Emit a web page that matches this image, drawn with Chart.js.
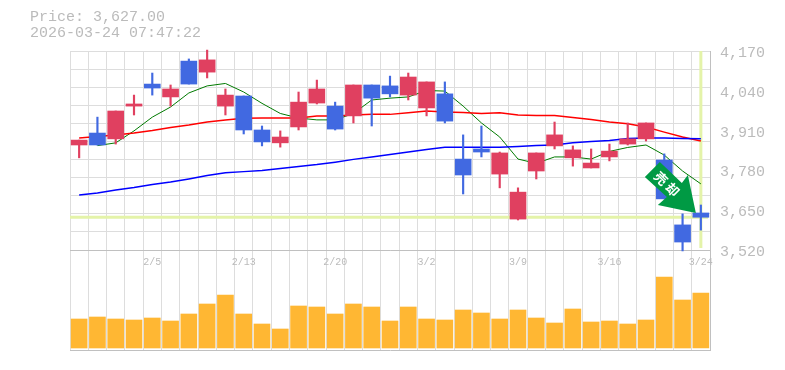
<!DOCTYPE html>
<html>
<head>
<meta charset="utf-8">
<script src="https://cdn.jsdelivr.net/npm/chart.js@4"></script>
<style>
html, body { margin: 0; padding: 0; background: #fff; }
#wrap { position: relative; width: 785px; height: 370px; overflow: hidden; }
canvas { position: absolute; left: 0; top: 0; }
#info { position: absolute; left: 30px; top: 10px; font: 15px/16px "Liberation Mono", monospace; color: #bbb; white-space: pre; }
</style>
</head>
<body>
<div id="wrap">
  <canvas id="volChart" width="785" height="370"></canvas>
  <canvas id="priceChart" width="785" height="370"></canvas>
  <div id="info">Price: 3,627.00
2026-03-24 07:47:22</div>
</div>
<script>
const dates = ['1/30','2/2','2/3','2/4','2/5','2/6','2/9','2/10','2/12','2/13','2/16','2/17','2/18','2/19','2/20','2/24','2/25','2/26','2/27','3/2','3/3','3/4','3/5','3/6','3/9','3/10','3/11','3/12','3/13','3/16','3/17','3/18','3/19','3/23','3/24'];
const open = [3863,3902,3883,3990,4062,4020,4137,4101,3990,4023,3912,3870,3922,4000,3990,3958,4059,4056,4026,3984,4030,3817,3850,3768,3621,3778,3860,3821,3788,3824,3866,3883,3814,3602,3641];
const high = [3879,3954,3974,4026,4098,4059,4144,4173,4046,4023,3925,3909,4036,4075,4003,4059,4059,4088,4098,4069,4069,3896,3925,3840,3723,3837,3938,3860,3850,3866,3935,3935,3834,3638,3667];
const low = [3821,3863,3866,3961,4026,3990,4062,4082,3961,3899,3860,3856,3912,3997,3912,3935,3925,4020,4010,3958,3935,3703,3824,3723,3618,3752,3850,3794,3788,3811,3863,3876,3687,3517,3585];
const close = [3879,3863,3974,3997,4049,4046,4062,4141,4026,3912,3873,3889,4003,4046,3915,4059,4016,4030,4085,4069,3941,3765,3840,3837,3709,3837,3896,3847,3804,3843,3883,3935,3687,3546,3627];
const maShort = [null,3861,3870,3909,3954,3987,4033,4056,4064,4036,3999,3966,3951,3945,3945,3966,4010,4016,4020,4041,4039,3990,3935,3889,3817,3803,3824,3824,3817,3842,3855,3863,3830,3778,3736];
const maMid = [3886,3891,3896,3902,3910,3920,3928,3938,3945,3950,3951,3951,3951,3958,3958,3961,3963,3963,3968,3974,3971,3969,3966,3968,3961,3959,3959,3953,3946,3938,3932,3922,3905,3889,3876];
const maLong = [3700,3706,3716,3724,3734,3742,3752,3763,3772,3776,3780,3786,3793,3799,3807,3816,3824,3832,3840,3848,3856,3856,3856,3856,3858,3861,3863,3870,3874,3878,3884,3886,3886,3884,3883];
const volume = [29,31,29,28,30,27,34,44,53,34,24,19,42,41,34,44,41,27,41,29,28,38,35,29,38,30,25,39,26,27,24,28,71,48,55];
const priceTicks = [4170,4040,3910,3780,3650,3520];
const currentPrice = 3627;

const upColor = '#e04060';
const downColor = '#4169e1';
const gridColor = '#dddddd';
const axisColor = '#c0c0c0';
const textColor = '#bbbbbb';
const markColor = '#e4f3a9';

const candleColors = open.map((o, i) => close[i] >= o ? upColor : downColor);

// current price and latest date guide lines, behind the candles
const guideLines = {
    id: 'guideLines',
    beforeDatasetsDraw(chart) {
        const { ctx, chartArea, scales } = chart;
        const py = scales.y.getPixelForValue(currentPrice);
        const px = scales.x.getPixelForValue(dates.length - 1);
        ctx.save();
        ctx.strokeStyle = markColor;
        ctx.lineWidth = 3;
        ctx.beginPath();
        ctx.moveTo(chartArea.left, py);
        ctx.lineTo(chartArea.right - 2, py);
        ctx.moveTo(px, chartArea.top);
        ctx.lineTo(px, chartArea.bottom - 2);
        ctx.stroke();
        ctx.restore();
    }
};

// green arrow sticker, placed from the last candle
const arrowSign = {
    id: 'arrowSign',
    afterDatasetsDraw(chart) {
        const { ctx, scales } = chart;
        const tx = scales.x.getPixelForValue(dates.length - 1) - 5;
        const ty = scales.y.getPixelForValue(high[dates.length - 1]) + 8;
        const shape = [[-51,-36],[-36,-51],[-14,-30],[-8,-38],[0,0],[-38,-8],[-29,-16]];
        ctx.save();
        ctx.translate(tx, ty);
        ctx.fillStyle = '#009a44';
        ctx.beginPath();
        shape.forEach((p, i) => i ? ctx.lineTo(p[0], p[1]) : ctx.moveTo(p[0], p[1]));
        ctx.closePath();
        ctx.fill();
        ctx.fillStyle = '#fff';
        ctx.font = 'bold 13px "Noto Sans CJK JP"';
        ctx.textAlign = 'center';
        ctx.textBaseline = 'middle';
        ctx.translate(-29, -29);
        ctx.rotate(Math.PI / 4);
        ctx.fillText('売', -8, 0);
        ctx.fillText('却', 8, 0);
        ctx.restore();
    }
};

new Chart(document.getElementById('priceChart'), {
    type: 'bar',
    plugins: [guideLines, arrowSign],
    data: {
        labels: dates,
        datasets: [
            { type: 'line', data: maLong, borderColor: '#0000ff', borderWidth: 1.5, pointRadius: 0, tension: 0, order: 3 },
            { type: 'line', data: maMid, borderColor: '#ff0000', borderWidth: 1.5, pointRadius: 0, tension: 0, order: 3 },
            { type: 'line', data: maShort, borderColor: '#007a00', borderWidth: 1, pointRadius: 0, tension: 0, order: 3 },
            { data: low.map((l, i) => [l, high[i]]), backgroundColor: candleColors, barThickness: 1.5, grouped: false, order: 2, clip: false },
            { data: open.map((o, i) => [o, close[i]]), backgroundColor: candleColors, barThickness: 16, grouped: false, order: 1 }
        ]
    },
    options: {
        responsive: false,
        animation: false,
        layout: { padding: { left: 70, top: 51, bottom: 100 } },
        plugins: { legend: { display: false }, tooltip: { enabled: false } },
        scales: {
            x: {
                offset: true,
                afterFit(scale) { scale.height = 20; },
                border: { color: axisColor, width: 1 },
                grid: { color: gridColor, borderDash: [3, 3], offset: true, drawTicks: false },
                ticks: {
                    autoSkip: false,
                    maxRotation: 0,
                    padding: 6,
                    color: textColor,
                    font: { family: '"Liberation Mono", monospace', size: 10 },
                    callback(value, index) { return index % 5 === 4 ? dates[index] : ''; }
                }
            },
            y: {
                position: 'right',
                min: 3520,
                max: 4170,
                afterFit(scale) { scale.width = 75; },
                afterBuildTicks(scale) { scale.ticks = priceTicks.map(v => ({ value: v })); },
                border: { color: axisColor, width: 1 },
                grid: { display: false, drawTicks: false },
                ticks: {
                    padding: 10,
                    labelOffset: 2,
                    color: textColor,
                    crossAlign: 'near',
                    font: { family: '"Liberation Mono", monospace', size: 15 },
                    callback(value) { return value.toLocaleString('en-US'); }
                }
            },
            gridY: {
                position: 'left',
                min: 3520,
                max: 4170,
                afterFit(scale) { scale.width = 0; },
                afterBuildTicks(scale) {
                    const step = (scale.max - scale.min) / 11;
                    scale.ticks = Array.from({ length: 12 }, (_, i) => ({ value: scale.min + step * i }));
                },
                border: { display: false },
                grid: { color: gridColor, borderDash: [3, 3], drawTicks: false },
                ticks: { display: false }
            }
        }
    }
});

new Chart(document.getElementById('volChart'), {
    type: 'bar',
    data: {
        labels: dates,
        datasets: [{ data: volume, backgroundColor: '#ffb733', barThickness: 16 }]
    },
    options: {
        responsive: false,
        animation: false,
        layout: { padding: { left: 70, top: 250, bottom: 20 } },
        plugins: { legend: { display: false }, tooltip: { enabled: false } },
        scales: {
            x: {
                offset: true,
                afterFit(scale) { scale.height = 0; },
                border: { color: axisColor, width: 1 },
                grid: { color: gridColor, borderDash: [3, 3], offset: true, drawTicks: false },
                ticks: { display: false }
            },
            y: {
                position: 'right',
                min: -2,
                max: 98,
                afterFit(scale) { scale.width = 75; },
                border: { color: axisColor, width: 1 },
                grid: { display: false, drawTicks: false },
                ticks: { display: false }
            }
        }
    }
});
</script>
</body>
</html>
